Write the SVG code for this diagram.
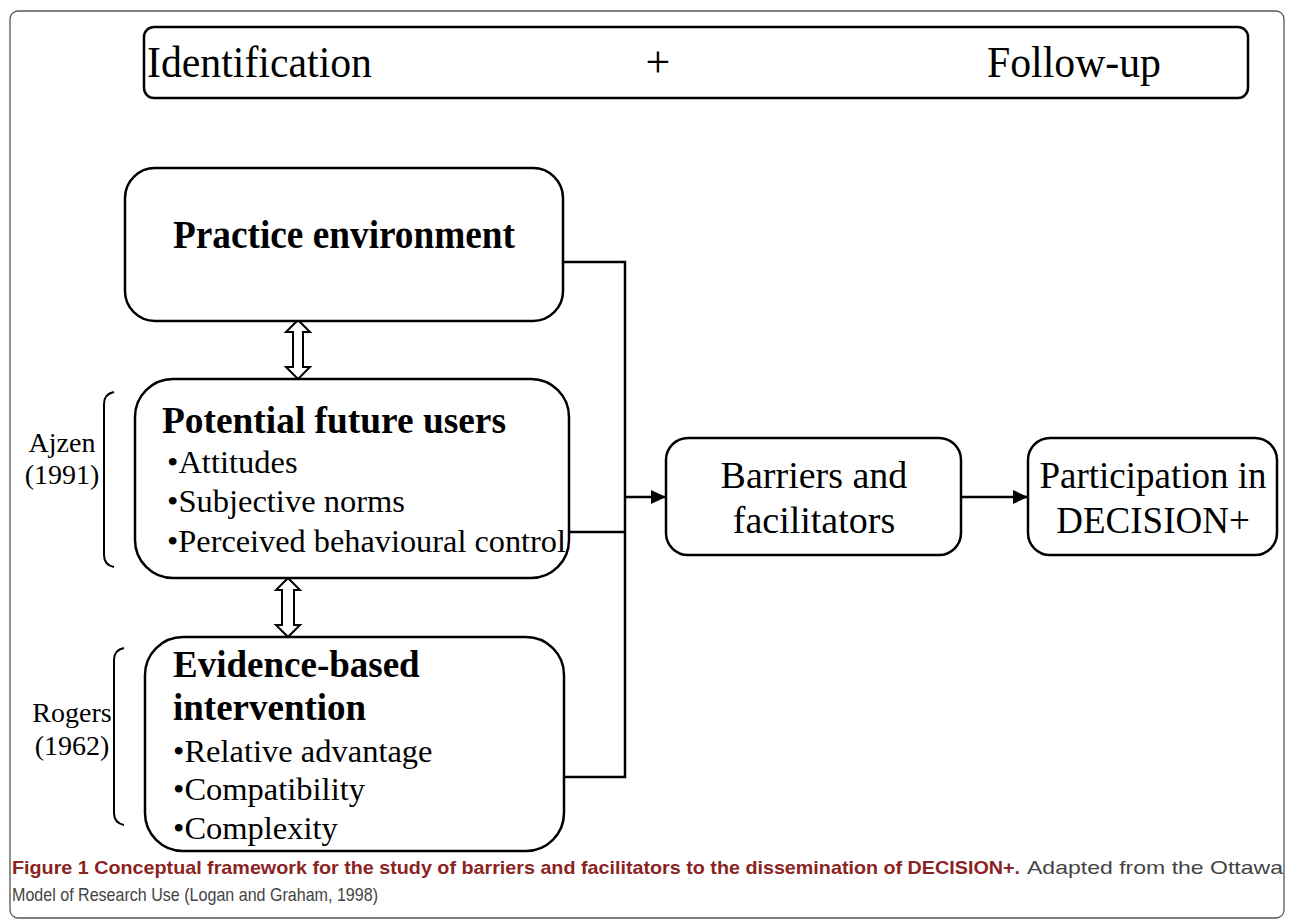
<svg xmlns="http://www.w3.org/2000/svg" width="1290" height="923" viewBox="0 0 1290 923">
<style>
.box{fill:#fff;stroke:#000;stroke-width:2.5}
.t{font-family:"Liberation Serif","Times New Roman",serif;fill:#000}
.b{font-weight:bold}
.bl{font-size:32.5px}
.line{fill:none;stroke:#000;stroke-width:2.5}
.dbl{fill:#fff;stroke:#000;stroke-width:2}
.br{fill:none;stroke:#000;stroke-width:2}
.cap{font-family:"Liberation Sans",Arial,sans-serif;font-size:19px}
</style>
<defs>
<marker id="ah" markerUnits="userSpaceOnUse" markerWidth="16" markerHeight="14" refX="15" refY="7" orient="auto">
<path d="M0,0 L15,7 L0,14 z" fill="#000"/>
</marker>
</defs>
<rect x="10" y="11" width="1274" height="907" rx="8" fill="#fff" stroke="#555" stroke-width="1.3"/>

<g id="top">
<rect class="box" x="144" y="27" width="1104" height="71" rx="10"/>
<text class="t" x="147" y="77" font-size="44" textLength="225" lengthAdjust="spacingAndGlyphs">Identification</text>
<text class="t" x="658" y="77" font-size="44" text-anchor="middle">+</text>
<text class="t" x="987" y="77" font-size="44" textLength="174" lengthAdjust="spacingAndGlyphs">Follow-up</text>
</g>

<g id="connectors">
<polyline class="line" points="563,262 625,262 625,777 564,777"/>
<line class="line" x1="560" y1="532" x2="625" y2="532"/>
<line class="line" x1="625" y1="497" x2="666" y2="497" marker-end="url(#ah)"/>
<line class="line" x1="961" y1="497" x2="1028" y2="497" marker-end="url(#ah)"/>
<path class="dbl" d="M298,320 L310,332 L303,332 L303,367 L310,367 L298,379 L286,367 L293,367 L293,332 L286,332 Z"/>
<path class="dbl" d="M288,578 L300,590 L294,590 L294,625 L300,625 L288,637 L276,625 L282,625 L282,590 L276,590 Z"/>
</g>

<g id="practice">
<rect class="box" x="125" y="168" width="438" height="153" rx="30"/>
<text class="t b" x="173" y="248" font-size="39" textLength="342" lengthAdjust="spacingAndGlyphs">Practice environment</text>
</g>

<g id="potential">
<rect class="box" x="135" y="379" width="434" height="199" rx="38"/>
<text class="t b" x="162" y="433" font-size="37" textLength="344" lengthAdjust="spacingAndGlyphs">Potential future users</text>
<text class="t bl" x="167" y="473">•Attitudes</text>
<text class="t bl" x="167" y="512">•Subjective norms</text>
<text class="t bl" x="167" y="552" textLength="399" lengthAdjust="spacingAndGlyphs">•Perceived behavioural control</text>
</g>

<g id="evidence">
<rect class="box" x="145" y="637" width="419" height="214" rx="38"/>
<text class="t b" x="173" y="677" font-size="37">Evidence-based</text>
<text class="t b" x="173" y="720" font-size="37">intervention</text>
<text class="t bl" x="173" y="762">•Relative advantage</text>
<text class="t bl" x="173" y="800">•Compatibility</text>
<text class="t bl" x="173" y="839">•Complexity</text>
</g>

<g id="ajzen">
<path class="br" d="M114,392 Q104,394 104,404 L104,555 Q104,565 114,567"/>
<text class="t" x="62" y="452" font-size="28" text-anchor="middle">Ajzen</text>
<text class="t" x="62" y="484" font-size="28" text-anchor="middle">(1991)</text>
</g>

<g id="rogers">
<path class="br" d="M124,648 Q114,650 114,660 L114,813 Q114,823 124,825"/>
<text class="t" x="72" y="722" font-size="28" text-anchor="middle">Rogers</text>
<text class="t" x="72" y="755" font-size="28" text-anchor="middle">(1962)</text>
</g>

<g id="barriers">
<rect class="box" x="666" y="438" width="295" height="117" rx="22"/>
<text class="t" x="814" y="488" font-size="38" text-anchor="middle">Barriers and</text>
<text class="t" x="814" y="533" font-size="38" text-anchor="middle">facilitators</text>
</g>

<g id="participation">
<rect class="box" x="1028" y="438" width="249" height="117" rx="22"/>
<text class="t" x="1153" y="488" font-size="37" text-anchor="middle">Participation in</text>
<text class="t" x="1153" y="533" font-size="37" text-anchor="middle">DECISION+</text>
</g>

<g id="caption">
<text class="cap" x="12" y="874" font-weight="bold" fill="#8b2323" textLength="1008" lengthAdjust="spacingAndGlyphs">Figure 1 Conceptual framework for the study of barriers and facilitators to the dissemination of DECISION+.</text>
<text class="cap" x="1027" y="874" fill="#444" textLength="256" lengthAdjust="spacingAndGlyphs">Adapted from the Ottawa</text>
<text class="cap" x="12" y="901" fill="#444" textLength="366" lengthAdjust="spacingAndGlyphs">Model of Research Use (Logan and Graham, 1998)</text>
</g>
</svg>
